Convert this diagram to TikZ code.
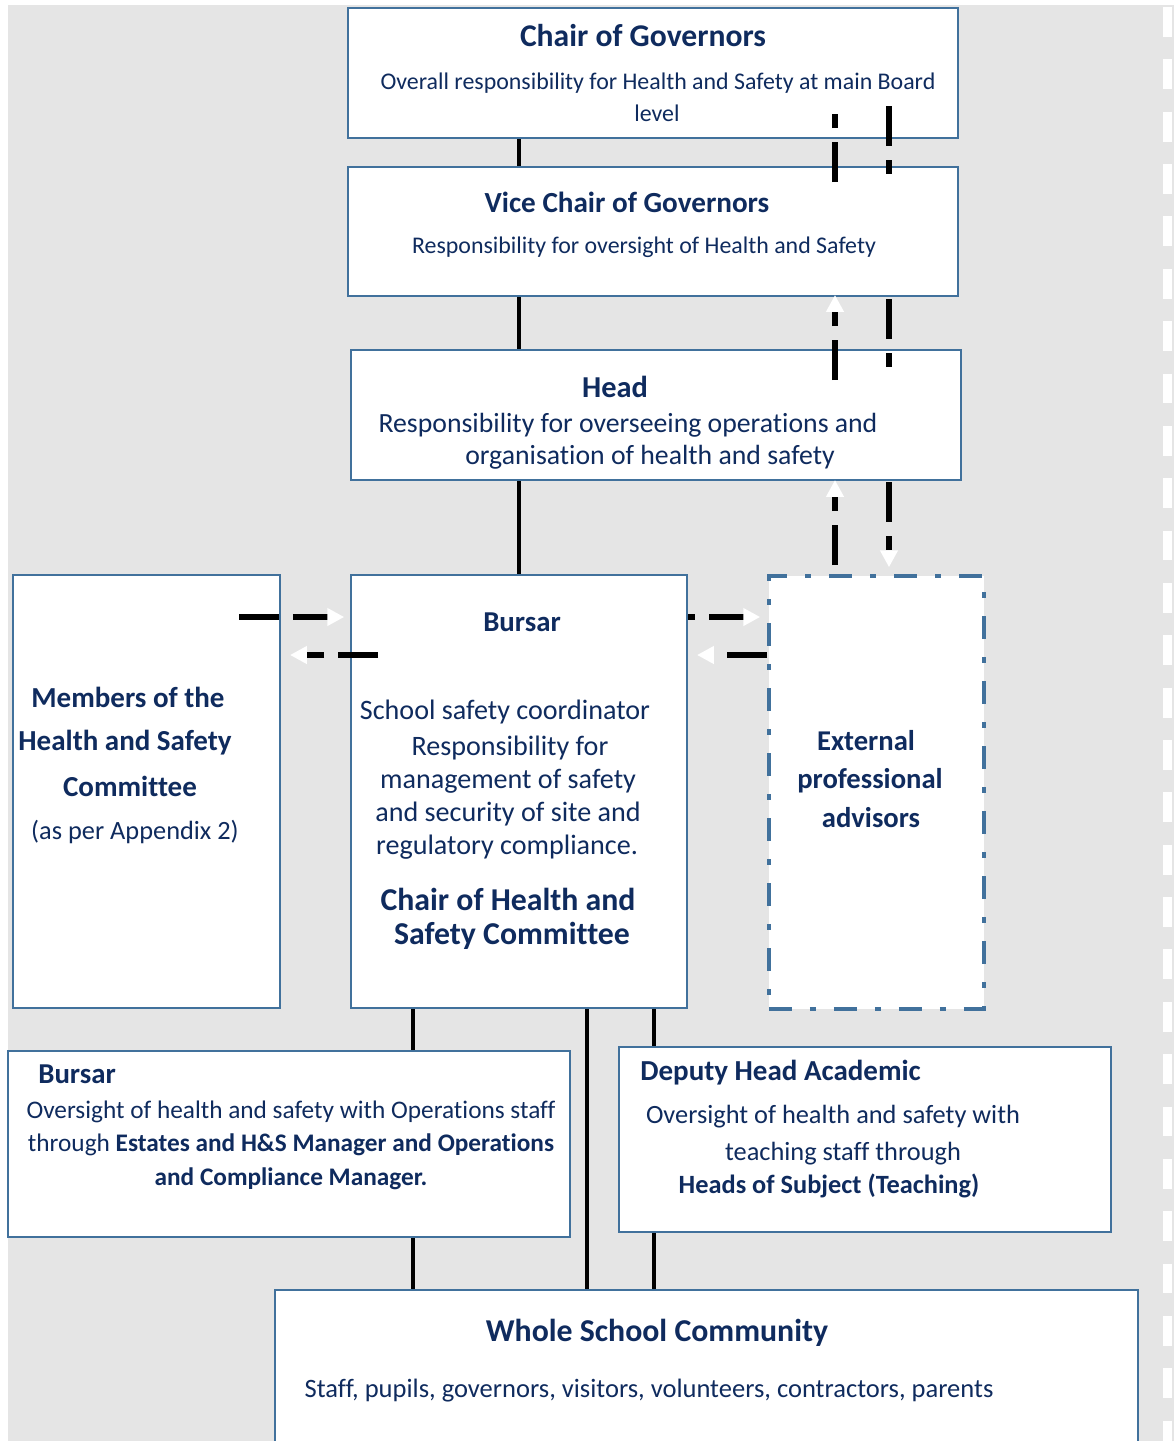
\documentclass[tikz,border=0pt]{standalone}
\usepackage{fontspec}
\setmainfont{Carlito}[Ligatures=NoCommon]
\usetikzlibrary{arrows.meta,calc}

\definecolor{navy}{HTML}{0F2B5E}
\definecolor{boxblue}{HTML}{41719C}
\definecolor{bggray}{HTML}{E5E5E5}

\tikzset{
  box/.style={draw=boxblue, line width=1.3pt, fill=white, anchor=north west, inner sep=0pt},
  ttl/.style={text=navy, font=\bfseries\fontsize{#1}{#1}\selectfont, anchor=base, inner sep=0pt},
  txt/.style={text=navy, font=\fontsize{#1}{#1}\selectfont, anchor=base, inner sep=0pt},
  link/.style={line width=2.7pt},
  flow/.style={line width=3.4pt, dash pattern=on 22.7pt off 7.9pt on 7.9pt off 7.9pt,
    -{Triangle[width=9.6pt,length=9.6pt,color=white]}},
  sideflow/.style={flow, dash pattern=on 22.7pt off 7.9pt}
}

\begin{document}
\begin{tikzpicture}[x=0.02cm, y=-0.02cm]
    \useasboundingbox (0,0) rectangle (1174,1441);
    \clip (0,0) rectangle (1174,1441);
    % page background
    \fill[bggray] (8,5) rectangle (1174,1441);
    \draw[white, line width=5.1pt, dash pattern=on 17pt off 12.8pt] (1167.5,7) -- (1167.5,1441);

    % columns and rows for the connectors
    \coordinate (spine) at (519,0);
    \coordinate (upcol) at (835,0);
    \coordinate (downcol) at (889,0);
    \coordinate (opscol) at (413,0);
    \coordinate (midcol) at (587,0);
    \coordinate (depcol) at (654,0);
    \coordinate (toprow) at (0,617);
    \coordinate (botrow) at (0,655);

    % boxes
    \node[box, minimum width=12.2cm, minimum height=2.6cm] (chair) at (347,7) {};
    \node[box, minimum width=12.2cm, minimum height=2.58cm] (vice) at (347,166) {};
    \node[box, minimum width=12.2cm, minimum height=2.6cm] (head) at (350,349) {};
    \node[box, minimum width=5.34cm, minimum height=8.66cm] (members) at (12,574) {};
    \node[box, minimum width=6.72cm, minimum height=8.66cm] (bursar) at (350,574) {};
    \node[box, minimum width=4.3cm, minimum height=8.66cm, line width=2.1pt,
      dash pattern=on 13pt off 10.3pt on 3.4pt off 10.3pt] (ext) at (767,574) {};

    % solid lines
    \draw[link] (chair.south -| spine) -- (vice.north -| spine);
    \draw[link] (vice.south -| spine) -- (head.north -| spine);
    \draw[link] (head.south -| spine) -- (bursar.north -| spine);
    \draw[link] (bursar.south -| opscol) -- ++(0,282);
    \draw[link] (bursar.south -| midcol) -- ++(0,282);
    \draw[link] (bursar.south -| depcol) -- ++(0,282);

    \node[box, minimum width=11.24cm, minimum height=3.72cm] (ops) at (7,1050) {};
    \node[box, minimum width=9.84cm, minimum height=3.7cm] (deputy) at (618,1046) {};
    \node[box, minimum width=17.26cm, minimum height=3.4cm] (whole) at (274,1289) {};

    % dashed reporting arrows
    \draw[flow] ($(upcol |- ext.north)+(0,-9)$) -- ++(0,-85);
    \draw[flow] ($(upcol |- head.north)+(0,31)$) -- ++(0,-85);
    \draw[flow] ($(upcol |- vice.north)+(0,16)$) -- ++(0,-85);
    \draw[flow] ($(downcol |- chair.south)+(0,-33)$) -- ++(0,85);
    \draw[flow] ($(downcol |- vice.south)+(0,2)$) -- ++(0,85);
    \draw[flow] ($(downcol |- head.south)+(0,1)$) -- ++(0,85);
    \draw[sideflow] ($(members.east |- toprow)+(-42,0)$) -- ++(105,0);
    \draw[sideflow] ($(bursar.west |- botrow)+(28,0)$) -- ++(-88,0);
    \draw[sideflow, dash phase=18.7pt] (bursar.east |- toprow) -- ++(72,0);
    \draw[sideflow] (ext.west |- botrow) -- ++(-70,0);

    % texts
    \node[ttl=18] (chairT) at (643,46) {Chair of Governors};
    \node[txt=13.6] (chairD1) at (658,89) {Overall responsibility for Health and Safety at main Board};
    \node[txt=13.6] (chairD2) at (657,121) {level};

    \node[ttl=16.6] (viceT) at (627,212) {Vice Chair of Governors};
    \node[txt=13.6] (viceD) at (644,253) {Responsibility for oversight of Health and Safety};

    \node[ttl=17.3] (headT) at (615,397) {Head};
    \node[txt=15.8] (headD1) at (628,432) {Responsibility for overseeing operations and};
    \node[txt=15.8] (headD2) at (650,464) {organisation of health and safety};

    \node[ttl=16.5] (memT1) at (128,707) {Members of the};
    \node[ttl=16.5] (memT2) at (125,750) {Health and Safety};
    \node[ttl=16.5] (memT3) at (130,796) {Committee};
    \node[txt=15] (memD) at (135,839) {(as per Appendix 2)};

    \node[ttl=16.4] (bursarT) at (522,631) {Bursar};
    \node[txt=16] (bursarD1) at (505,719) {School safety coordinator};
    \node[txt=16] (bursarD2) at (510,755) {Responsibility for};
    \node[txt=16] (bursarD3) at (508,788) {management of safety};
    \node[txt=16] (bursarD4) at (508,821) {and security of site and};
    \node[txt=16] (bursarD5) at (507,854) {regulatory compliance.};
    \node[ttl=18.1] (bursarC1) at (508,910) {Chair of Health and};
    \node[ttl=18.1] (bursarC2) at (512,944) {Safety Committee};

    \node[ttl=16.3] (extT1) at (866,750) {External};
    \node[ttl=16.3] (extT2) at (870,788) {professional};
    \node[ttl=16.3] (extT3) at (871,827) {advisors};

    \node[ttl=16.4, anchor=base west] (opsT) at (38,1083) {Bursar};
    \node[txt=14.4] (opsD1) at (291,1118) {Oversight of health and safety with Operations staff};
    \node[txt=14.4] (opsD2) at (291,1151) {through \textbf{Estates and H\&S Manager and Operations}};
    \node[ttl=14.4] (opsD3) at (291,1185) {and Compliance Manager.};

    \node[ttl=16.5, anchor=base west] (depT) at (640,1080) {Deputy Head Academic};
    \node[txt=15] (depD1) at (833,1123) {Oversight of health and safety with};
    \node[txt=15] (depD2) at (843,1160) {teaching staff through};
    \node[ttl=15] (depD3) at (829,1193) {Heads of Subject (Teaching)};

    \node[ttl=18.1] (wholeT) at (657,1341) {Whole School Community};
    \node[txt=15.1] (wholeD) at (649,1397) {Staff, pupils, governors, visitors, volunteers, contractors, parents};
\end{tikzpicture}
\end{document}
